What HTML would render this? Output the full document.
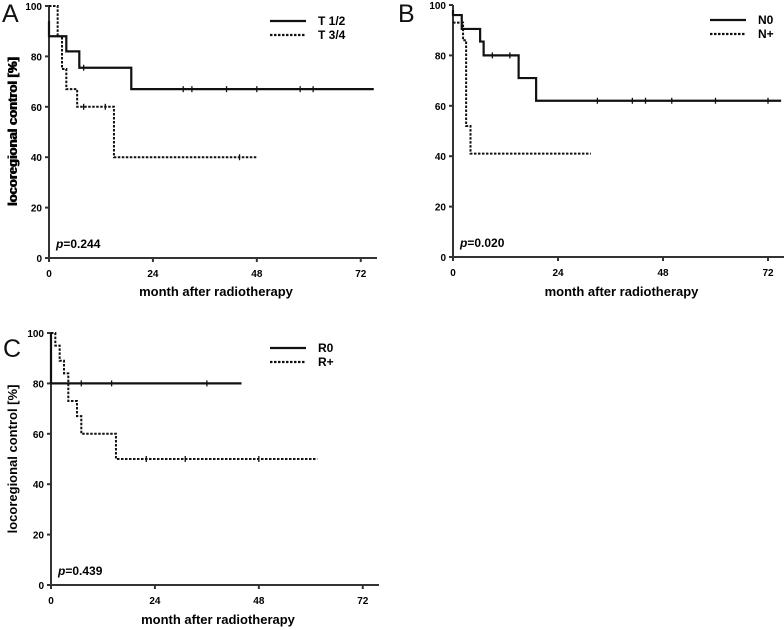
<!DOCTYPE html>
<html><head><meta charset="utf-8">
<style>
body{margin:0;background:#fff;}
svg{display:block;font-family:"Liberation Sans",Arial,sans-serif;}
</style></head>
<body>
<svg id="chart" width="784" height="630" viewBox="0 0 784 630"></svg>
<script>
// Panel A
const aSolidT=[0,4,7,19,75];   const aSolidV=[88,82,75.5,67,67];
const aSolidCens=[8,31,33,41,48,58,61];
const aDashT=[0,2,3,4,6.5,15,48]; const aDashV=[100,88,75,67,60,40,40];
const aDashCens=[8,13,44];
// Panel B
const bSolidT=[0,2,6.2,7,15,19,75]; const bSolidV=[96,90.5,85.5,80,71,62,62];
const bSolidCens=[9,13,33,41,44,50,60,72];
const bDashT=[0,2.3,3,4,31.5]; const bDashV=[93,86,52,41,41];
const bDashCens=[];
// Panel C
const cSolidT=[0,44]; const cSolidV=[80,80];
const cSolidCens=[7,14,36];
const cDashT=[0,1,2,3,4,6,7,15,61.5]; const cDashV=[100,95,89,84,73,67,60,50,50];
const cDashCens=[22,31,48];
const xTicks=[0,24,48,72];
const yTicks=[0,20,40,60,80,100];

const NS="http://www.w3.org/2000/svg";
const svg=document.getElementById('chart');
function mk(tag,attrs,parent){const e=document.createElementNS(NS,tag);for(const k in attrs)e.setAttribute(k,attrs[k]);(parent||svg).appendChild(e);return e;}

const panels=[
 {id:'a',letter:'A',lx:2,ly:22,x0:49,xEnd:377,y0:258,y100:6,pxm:4.33,
  s:[aSolidT,aSolidV,aSolidCens],d:[aDashT,aDashV,aDashCens],solidStart:94,
  leg:['T 1/2','T 3/4'],legX:270,legY:21,p:'0.244',title:296},
 {id:'b',letter:'B',lx:398,ly:22,x0:453,xEnd:784,y0:257,y100:5,pxm:4.375,
  s:[bSolidT,bSolidV,bSolidCens],d:[bDashT,bDashV,bDashCens],solidStart:98,
  leg:['N0','N+'],legX:710,legY:20,p:'0.020',title:296},
 {id:'c',letter:'C',lx:3,ly:357,x0:51,xEnd:379,y0:585,y100:333,pxm:4.33,
  s:[cSolidT,cSolidV,cSolidCens],d:[cDashT,cDashV,cDashCens],solidStart:100,
  leg:['R0','R+'],legX:270,legY:348,p:'0.439',title:624}
];

panels.forEach(P=>{
  const g=mk('g',{});
  
  
  const X=m=>P.x0+m*P.pxm;
  const Y=v=>P.y0-(v/100)*(P.y0-P.y100);
  const L=mk('text',{x:P.lx,y:P.ly,'font-size':'25',fill:'#111'},g);L.textContent=P.letter;
  
  const ya=mk('line',{x1:P.x0,y1:P.y100,x2:P.x0,y2:P.y0,stroke:'#333','stroke-width':2},g);
  
  const xa=mk('line',{x1:P.x0-4,y1:P.y0,x2:P.xEnd,y2:P.y0,stroke:'#333','stroke-width':2},g);
  
  yTicks.forEach(t=>{
    mk('line',{x1:P.x0-4,y1:Y(t),x2:P.x0,y2:Y(t),stroke:'#333','stroke-width':2},g);
    const tx=mk('text',{x:P.x0-7,y:Y(t)+4,'text-anchor':'end','font-size':'10','font-weight':'bold'},g);tx.textContent=t;
    
  });
  xTicks.forEach(t=>{
    mk('line',{x1:X(t),y1:P.y0,x2:X(t),y2:P.y0+4,stroke:'#333','stroke-width':2},g);
    const tx=mk('text',{x:X(t),y:P.y0+19,'text-anchor':'middle','font-size':'10','font-weight':'bold'},g);tx.textContent=t;
    
  });
  const xt=mk('text',{x:(P.x0+P.xEnd)/2+3,y:P.title,'text-anchor':'middle','font-size':'13','font-weight':'bold'},g);
  xt.textContent='month after radiotherapy';
  
  const cy=(P.y0+P.y100)/2;
  const yt=mk('text',{x:0,y:0,'text-anchor':'middle','font-size':'13','font-weight':'bold',transform:`translate(17,${cy}) rotate(-90)`},g);
  yt.textContent='locoregional control [%]';
  
  const pt=mk('text',{x:P.x0+7,y:P.y0-10,'font-size':'12','font-weight':'bold'},g);
  pt.innerHTML='<tspan font-style="italic">p</tspan>='+P.p;
  
  function curve(ser,dash,name,start){
    const [T,V,C]=ser;
    let d=`M${X(0)},${Y(start)} L${X(0)},${Y(V[0])}`;
    for(let i=1;i<T.length;i++){d+=` L${X(T[i])},${Y(V[i-1])} L${X(T[i])},${Y(V[i])}`;}
    const p=mk('path',{d:d,fill:'none',stroke:'#111','stroke-width':dash?2:2.2,'stroke-dasharray':dash?'2.5,1.5':'none'},g);
    
    C.forEach(c=>{
      let v=V[0];for(let i=0;i<T.length;i++){if(T[i]<=c)v=V[i];}
      const cm=mk('line',{x1:X(c),y1:Y(v)-3,x2:X(c),y2:Y(v)+3,stroke:'#111','stroke-width':1.3},g);
      
    });
  }
  curve(P.s,false,'curve-'+P.leg[0].replace(/[^A-Za-z0-9]+/g,'-').toLowerCase(),P.solidStart);
  curve(P.d,true,'curve-'+P.leg[1].replace(/[^A-Za-z0-9]+/g,'-').toLowerCase(),P.d[1][0]);
  [0,1].forEach(i=>{
    const ly=P.legY+i*14;
    const ll=mk('line',{x1:P.legX,y1:ly,x2:P.legX+36,y2:ly,stroke:'#111','stroke-width':2.2,'stroke-dasharray':i?'2.5,1.5':'none'},g);
    
    const lt=mk('text',{x:P.legX+48,y:ly+4,'font-size':'12','font-weight':'bold'},g);lt.textContent=P.leg[i];
    
  });
});
</script>
</body></html>
